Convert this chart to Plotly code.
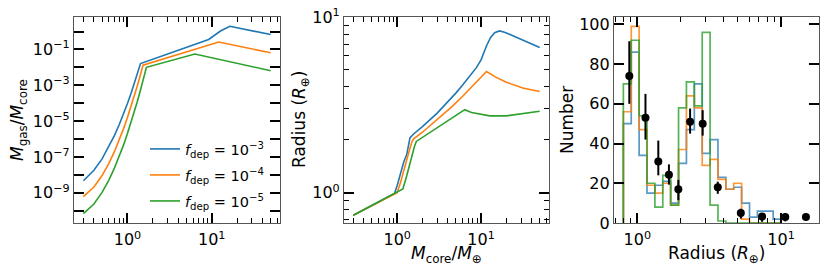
import numpy as np
import plotly.graph_objects as go

# ---------------- data ----------------
labels = ["<i>f</i><sub>dep</sub> = 10<sup>\u22123</sup>",
          "<i>f</i><sub>dep</sub> = 10<sup>\u22124</sup>",
          "<i>f</i><sub>dep</sub> = 10<sup>\u22125</sup>"]
colors = ["#1f77b4", "#ff7f0e", "#2ca02c"]
hist_colors = ["rgba(31,119,180,0.75)", "rgba(255,127,14,0.8)", "rgba(44,160,44,0.8)"]

# panel 1: gas-to-core mass ratio vs core mass
m_gas_blue = [0.30, 0.40, 0.50, 0.60, 0.70, 0.80, 0.90, 1.0, 1.1, 1.2, 1.3, 1.43, 9.2, 12.7, 16.4, 18.2, 50]
f_gas_blue = [4.68e-9, 1.78e-8, 7.76e-8, 3.55e-7, 1.55e-6, 6.46e-6, 2.51e-5, 9.55e-5, 3.39e-4, 1.15e-3, 3.80e-3, 1.62e-2,
              0.36, 1.07, 1.95, 1.78, 0.68]
m_gas_orange = [0.30, 0.40, 0.50, 0.60, 0.70, 0.80, 0.90, 1.0, 1.1, 1.2, 1.3, 1.4, 1.53, 12.1, 50]
f_gas_orange = [6.03e-10, 2.09e-9, 9.12e-9, 4.27e-8, 1.95e-7, 8.91e-7, 3.80e-6, 1.58e-5, 6.03e-5, 2.29e-4, 8.32e-4,
                2.82e-3, 1.32e-2, 0.26, 0.065]
m_gas_green = [0.30, 0.40, 0.50, 0.60, 0.70, 0.80, 0.90, 1.0, 1.1, 1.2, 1.3, 1.4, 1.5, 1.6, 1.68, 6.3, 50]
f_gas_green = [6.76e-11, 2.34e-10, 1.05e-9, 4.90e-9, 2.34e-8, 1.07e-7, 4.68e-7, 2.00e-6, 7.76e-6, 2.95e-5, 1.10e-4,
               3.80e-4, 1.26e-3, 4.07e-3, 1.0e-2, 0.055, 0.0065]

# panel 2: radius vs core mass
m_rad_blue = [0.30, 0.93, 1.0, 1.1, 1.2, 1.3, 1.42, 1.57, 2.0, 3.0, 4.0, 5.0, 6.0, 7.0, 8.8, 10.0, 11.6, 13.0,
              14.5, 16.6, 19.0, 21.8, 31.4, 50]
r_blue = [0.745, 0.99, 1.1, 1.3, 1.5, 1.65, 2.05, 2.16, 2.38, 2.84, 3.28, 3.69, 4.09, 4.48, 5.15, 5.7, 6.84, 7.65,
          8.15, 8.33, 8.2, 7.98, 7.38, 6.7]
m_rad_orange = [0.30, 1.0, 1.1, 1.2, 1.3, 1.4, 1.5, 1.56, 2.0, 3.0, 4.5, 6.0, 8.0, 11.6, 15.0, 20, 31.4, 50]
r_orange = [0.745, 1.0, 1.15, 1.35, 1.55, 1.75, 1.95, 2.02, 2.21, 2.60, 3.09, 3.53, 4.06, 4.9, 4.55, 4.26, 3.94, 3.77]
m_rad_green = [0.30, 1.17, 1.3, 1.45, 1.6, 1.69, 6.4, 7.7, 12.7, 20, 50]
r_green = [0.745, 1.05, 1.25, 1.55, 1.82, 1.96, 2.97, 2.86, 2.74, 2.74, 2.91]

# panel 3: histograms of radius (20 log-spaced bins from 0.8 to 10)
bin_lo, bin_hi, n_bins = 0.8, 10.0, 20
counts_blue = [50, 86, 34, 15, 19, 21, 10, 30, 47, 70, 35, 42, 23, 17, 18, 10, 3, 6, 6, 2]
counts_orange = [56, 99, 47, 19, 15, 20, 9, 37, 64, 58, 29, 32, 22, 17, 20, 2, 0, 0, 0, 0]
counts_green = [70, 92, 54, 20, 8, 24, 9, 58, 71, 59, 96, 9, 1, 0, 0, 0, 0, 0, 0, 0]

# observed counts with asymmetric errors
obs_radius = [0.88, 1.14, 1.40, 1.66, 1.93, 2.33, 2.85, 3.63, 5.25, 7.38, 10.7, 14.9]
obs_number = [74, 53, 31, 24.3, 17, 51, 50, 18, 5, 3.3, 3, 3]
obs_err_up = [17.5, 12, 10.5, 5.2, 4.7, 6.6, 6.8, 2.8, 2.2, 1.7, 2.0, 0]
obs_err_dn = [14, 11, 7, 5, 5.5, 6, 6, 3.3, 2.8, 2.7, 2.2, 0]

# ---------------- figure ----------------
W, H = 830, 277
FONT = "DejaVu Sans"
fig = go.Figure()

gas_sets = [(m_gas_blue, f_gas_blue), (m_gas_orange, f_gas_orange), (m_gas_green, f_gas_green)]
for i, (m, f) in enumerate(gas_sets):
    fig.add_trace(go.Scatter(x=m, y=f, mode="lines", line=dict(color=colors[i], width=1.6),
                             name=labels[i], legend=["legend", "legend2", "legend3"][i],
                             xaxis="x", yaxis="y"))

rad_sets = [(m_rad_blue, r_blue), (m_rad_orange, r_orange), (m_rad_green, r_green)]
for i, (m, r) in enumerate(rad_sets):
    fig.add_trace(go.Scatter(x=m, y=r, mode="lines", line=dict(color=colors[i], width=1.6),
                             showlegend=False, xaxis="x2", yaxis="y2"))

edges = np.logspace(np.log10(bin_lo), np.log10(bin_hi), n_bins + 1)
for i, c in enumerate([counts_blue, counts_orange, counts_green]):
    xs = [edges[0]] + list(edges[:-1]) + [edges[-1]]
    ys = [0] + list(c) + [0]
    fig.add_trace(go.Scatter(x=xs, y=ys, mode="lines", line=dict(color=hist_colors[i], width=1.7, shape="hv"),
                             showlegend=False, xaxis="x3", yaxis="y3"))

fig.add_trace(go.Scatter(x=obs_radius, y=obs_number, mode="markers",
                         marker=dict(color="black", size=8),
                         error_y=dict(type="data", symmetric=False, array=obs_err_up, arrayminus=obs_err_dn,
                                      color="black", thickness=2, width=0),
                         showlegend=False, xaxis="x3", yaxis="y3"))

def px_x(a, b):
    return [a / W, b / W]

ydom = [(H - 223) / H, (H - 17) / H]
tickfont = dict(family=FONT, size=16, color="black")

def axis(dom=None, **kw):
    d = dict(showline=True, linecolor="#555", linewidth=1.2, mirror="allticks",
             ticks="inside", ticklen=10, tickwidth=1.6, tickcolor="black",
             showgrid=False, zeroline=False, tickfont=tickfont, automargin=False)
    if dom is not None:
        d["domain"] = dom
    d.update(kw)
    return d

def minor(vals):
    return dict(tickvals=vals, ticks="inside", ticklen=5, tickwidth=1.2, tickcolor="black", showgrid=False)

dec_lbl = ["10<sup>0</sup>", "10<sup>1</sup>"]
mass_minor = [0.3, 0.4, 0.5, 0.6, 0.7, 0.8, 0.9, 2, 3, 4, 5, 6, 7, 8, 9, 20, 30, 40, 50, 60]
y1_vals = [10.0 ** k for k in range(-10, 1)]
y1_text = [("10<sup>\u2212%d</sup>" % (-k)) if (k % 2 != 0) else "" for k in range(-10, 1)]

fig.update_layout(
    width=W, height=H, margin=dict(l=0, r=0, t=0, b=0, autoexpand=False),
    paper_bgcolor="white", plot_bgcolor="white",
    font=dict(family=FONT, color="black"),
    xaxis=axis(px_x(74, 280), type="log", range=[-0.634, 1.81], tickvals=[1, 10], ticktext=dec_lbl,
               minor=minor(mass_minor), anchor="y", ticklabelstandoff=2),
    yaxis=axis(ydom, type="log", range=[-10.69, 0.81], tickvals=y1_vals, ticktext=y1_text, anchor="x"),
    xaxis2=axis(px_x(344, 549), type="log", range=[-0.634, 1.81], tickvals=[1, 10], ticktext=dec_lbl,
                minor=minor(mass_minor), anchor="y2", ticklabelstandoff=2),
    yaxis2=axis(ydom, type="log", range=[-0.172, 1.0], tickvals=[1, 10], ticktext=dec_lbl,
                minor=minor([0.7, 0.8, 0.9, 2, 3, 4, 5, 6, 7, 8, 9]), anchor="x2"),
    xaxis3=axis(px_x(614, 819), type="log", range=[-0.162, 1.264], tickvals=[1, 10], ticktext=dec_lbl,
                minor=minor([0.7, 0.8, 0.9, 2, 3, 4, 5, 6, 7, 8, 9, 20]), anchor="y3", ticklabelstandoff=2),
    yaxis3=axis(ydom, range=[0, 103.7], tickvals=[0, 20, 40, 60, 80, 100], anchor="x3"),
)

leg_common = dict(bgcolor="rgba(0,0,0,0)", font=dict(family=FONT, size=14.5, color="black"),
                  xanchor="left", yanchor="middle", x=145 / W)
fig.update_layout(
    legend=dict(leg_common, y=(H - 149) / H),
    legend2=dict(leg_common, y=(H - 175) / H),
    legend3=dict(leg_common, y=(H - 201) / H),
)

title_font = dict(family=FONT, size=17, color="black")
ann = [
    dict(text="<i>M</i><sub>gas</sub>/<i>M</i><sub>core</sub>", x=18 / W, y=(H - 120) / H, textangle=-90),
    dict(text="Radius (<i>R</i><sub>\u2295</sub>)", x=300 / W, y=(H - 120) / H, textangle=-90),
    dict(text="Number", x=567 / W, y=(H - 120) / H, textangle=-90),
    dict(text="<i>M</i><sub>core</sub>/<i>M</i><sub>\u2295</sub>", x=446.5 / W, y=(H - 254) / H),
    dict(text="Radius (<i>R</i><sub>\u2295</sub>)", x=716.5 / W, y=(H - 254) / H),
]
for a in ann:
    fig.add_annotation(xref="paper", yref="paper", showarrow=False, xanchor="center", yanchor="middle",
                       font=title_font, **a)

fig.write_html("out.html", config={"displayModeBar": False},
               post_script="document.body.style.margin='0px';document.body.style.padding='0px';")
